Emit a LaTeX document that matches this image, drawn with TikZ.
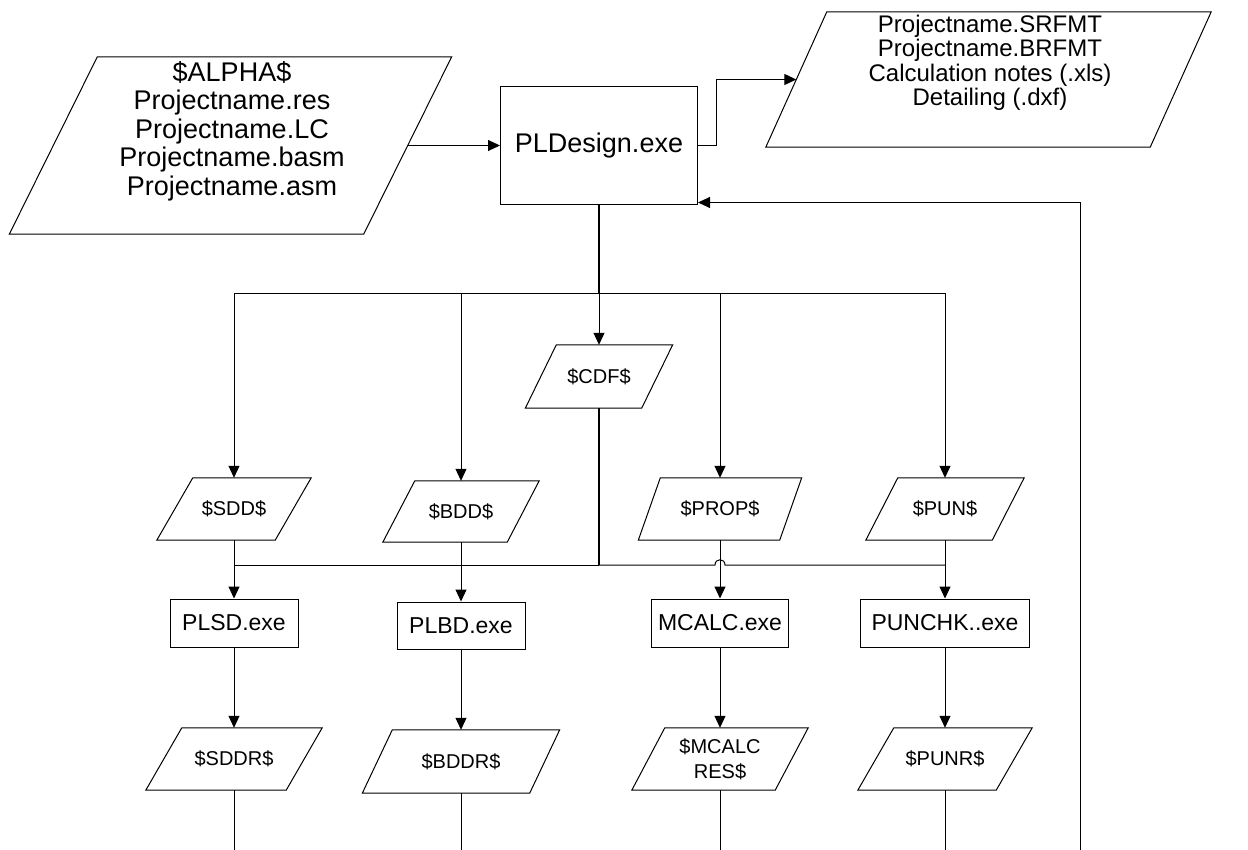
\documentclass[tikz,border=0pt]{standalone}
\usepackage{fontspec}
\setmainfont{Liberation Sans}
\usetikzlibrary{arrows.meta,calc}
\tikzset{
  ln/.style={line width=1pt, draw=black},
  thk/.style={line width=1.6pt, draw=black},
  arr/.style={ln, -{Triangle[length=12pt,width=11pt]}},
  pnode/.style={inner sep=0pt, align=center, font=\fontsize{20}{25}\selectfont},
  tnode/.style={inner sep=0pt, align=center},
  bnode/.style={draw, line width=1pt, inner sep=0pt, align=center, font=\fontsize{23}{27}\selectfont},
  shp/.style={line width=1pt},
}
\newcommand\parashape[2]{\draw[shp] ([xshift=-#2/2]#1.south west) -- ([xshift=-#2/2]#1.south east) -- ([xshift=#2/2]#1.north east) -- ([xshift=#2/2]#1.north west) -- cycle;}
\begin{document}
\begin{tikzpicture}[x=1pt,y=-1pt]
\useasboundingbox (0,0) rectangle (1248,850);
\fill[white] (0,0) rectangle (1248,850);
% top row
\node[pnode, minimum width=354pt, minimum height=177pt] (alpha) at (230.5,145.5) {};
\parashape{alpha}{88}
\node[tnode, font=\fontsize{27}{28.5}\selectfont] (alphatxt) at (232,131)
  {\$ALPHA\$\\Projectname.res\\Projectname.LC\\Projectname.basm\\Projectname.asm};
\node[bnode, font=\fontsize{27}{30}\selectfont, minimum width=197pt, minimum height=118pt] (pld) at (599,146) {PLDesign.exe};
\node[pnode, minimum width=384pt, minimum height=135pt] (out) at (988.5,79.5) {};
\parashape{out}{61}
\node[tnode, font=\fontsize{24}{24.5}\selectfont] (outtxt) at (990,63)
  {Projectname.SRFMT\\Projectname.BRFMT\\Calculation notes (.xls)\\Detailing (.dxf)};
\draw[arr] (alpha.east) -- (alpha.east -| pld.west);
\draw[arr] (pld.east) -- ++(18,0) |- (out.west);
% CDF
\node[pnode, minimum width=116pt, minimum height=63pt] (cdf) at (599,376.5) {\$CDF\$};
\parashape{cdf}{31}
% second row
\node[pnode, minimum width=118pt, minimum height=62pt] (sdd) at (234,509) {\$SDD\$};
\parashape{sdd}{36}
\node[pnode, minimum width=124pt, minimum height=61pt] (bdd) at (461,511.5) {\$BDD\$};
\parashape{bdd}{32}
\node[pnode, minimum width=141pt, minimum height=62pt] (prop) at (720,509) {\$PROP\$};
\parashape{prop}{22}
\node[pnode, minimum width=126pt, minimum height=62pt] (pun) at (945,509) {\$PUN\$};
\parashape{pun}{32}
% programs
\node[bnode, minimum width=128pt, minimum height=48pt] (plsd) at (234,623) {PLSD.exe};
\node[bnode, minimum width=128pt, minimum height=47pt] (plbd) at (461,625.5) {PLBD.exe};
\node[bnode, minimum width=137pt, minimum height=48pt] (mcalc) at (720,623) {MCALC.exe};
\node[bnode, minimum width=169pt, minimum height=48pt] (punchk) at (945,623) {PUNCHK..exe};
% results
\node[pnode, minimum width=140pt, minimum height=62pt] (sddr) at (234,759) {\$SDDR\$};
\parashape{sddr}{36}
\node[pnode, minimum width=167pt, minimum height=63pt] (bddr) at (461,761.5) {\$BDDR\$};
\parashape{bddr}{30}
\node[pnode, minimum width=143pt, minimum height=62pt] (mres) at (720,759) {\$MCALC\\RES\$};
\parashape{mres}{33}
\node[pnode, minimum width=138pt, minimum height=62pt] (punr) at (945,759) {\$PUNR\$};
\parashape{punr}{36}
% feedback
\coordinate (fb) at (1080,850);
\coordinate (bot) at (0,850);
\draw[arr] (fb) |- ([yshift=3pt]pld.south east);
% upper bus
\coordinate (b0) at (599,294);
\draw[thk] (pld.south) -- (b0);
\draw[arr] (b0) -- (cdf.north);
\draw[arr] (b0) -| (sdd.north);
\draw[arr] (b0) -| (bdd.north);
\draw[arr] (b0) -| (prop.north);
\draw[arr] (b0) -| (pun.north);
% lower bus
\coordinate (c0) at (599,565);
\draw[thk] (cdf.south) -- (c0);
\draw[ln] (c0) -- (c0 -| sdd.center);
\draw[ln] (c0) -- ($(c0 -| prop.center)+(-5,0)$) .. controls +(0,-7) and +(0,-7) .. ($(c0 -| prop.center)+(5,0)$) -- (c0 -| pun.center);
% columns
\draw[arr] (sdd.south) -- (plsd.north);
\draw[arr] (bdd.south) -- (plbd.north);
\draw[arr] (prop.south) -- (mcalc.north);
\draw[arr] (pun.south) -- (punchk.north);
\draw[arr] (plsd.south) -- (sddr.north);
\draw[arr] (plbd.south) -- (bddr.north);
\draw[arr] (mcalc.south) -- (mres.north);
\draw[arr] (punchk.south) -- (punr.north);
\draw[ln] (sddr.south) -- (sddr.south |- bot);
\draw[ln] (bddr.south) -- (bddr.south |- bot);
\draw[ln] (mres.south) -- (mres.south |- bot);
\draw[ln] (punr.south) -- (punr.south |- bot);
\end{tikzpicture}
\end{document}
